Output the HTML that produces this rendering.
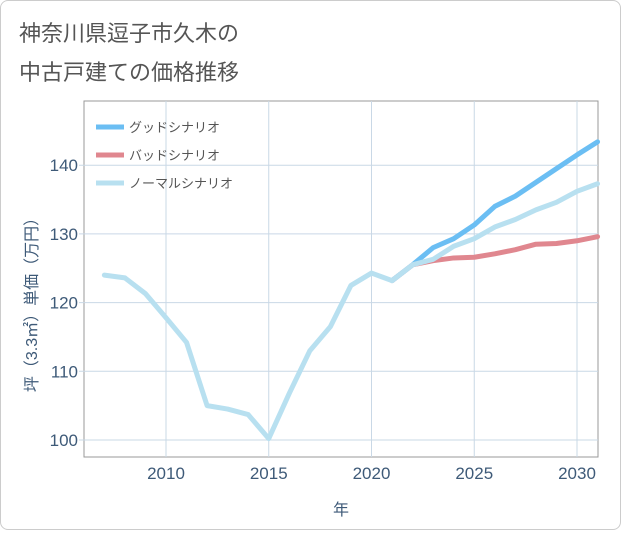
<!DOCTYPE html>
<html><head><meta charset="utf-8"><style>
body{margin:0;background:#fff;font-family:"Liberation Sans","Noto Sans CJK JP",sans-serif;}
#card{position:absolute;left:0;top:0;width:619px;height:528px;border:1px solid #ccc;border-radius:8px;background:#fff;}
</style></head><body>
<div id="card">
<svg id="chart" width="621" height="530"></svg>
</div>
<script>
const years=[2007,2008,2009,2010,2011,2012,2013,2014,2015,2016,2017,2018,2019,2020,2021,2022,2023,2024,2025,2026,2027,2028,2029,2030,2031];
const normalVals=[124,123.6,121.3,117.8,114.2,105,104.5,103.7,100.2,106.8,113,116.5,122.5,124.3,123.2,125.5,126.3,128.2,129.3,131,132.1,133.5,134.6,136.2,137.3];
const goodYears=[2021,2022,2023,2024,2025,2026,2027,2028,2029,2030,2031];
const goodVals=[123.2,125.5,128,129.3,131.3,134,135.5,137.5,139.5,141.5,143.4];
const badVals=[123.2,125.5,126.1,126.5,126.6,127.1,127.7,128.5,128.6,129,129.6];
const xTicks=[2010,2015,2020,2025,2030];
const yTicks=[100,110,120,130,140];
const L=83,R=597,T=100,B=456;
const x=v=>165+(v-2010)*20.55;
const y=v=>439-(v-100)*6.87;
const svg=document.getElementById('chart');
const NS='http://www.w3.org/2000/svg';
const TC='#3e5a78';
function mk(tag,at,parent){const e=document.createElementNS(NS,tag);for(const k in at)e.setAttribute(k,at[k]);(parent||svg).appendChild(e);return e;}
let t=mk('text',{x:18,y:40,'font-size':22,fill:'#555'});t.textContent='神奈川県逗子市久木の';

t=mk('text',{x:18,y:79,'font-size':22,fill:'#555'});t.textContent='中古戸建ての価格推移';

const bg=mk('rect',{x:L,y:T,width:R-L,height:B-T,fill:'#fff',stroke:'#999'});

for(const v of xTicks){const g=mk('line',{x1:x(v),x2:x(v),y1:T,y2:B,stroke:'#c9d8e6'});
const tx=mk('text',{x:x(v),y:478,'text-anchor':'middle','font-size':17,fill:TC});tx.textContent=v;}
for(const v of yTicks){const g=mk('line',{x1:L-5,x2:R,y1:y(v),y2:y(v),stroke:'#c9d8e6'});
const tx=mk('text',{x:77,y:y(v)+6,'text-anchor':'end','font-size':17,fill:TC});tx.textContent=v;}
t=mk('text',{x:340,y:514,'text-anchor':'middle','font-size':16,fill:TC});t.textContent='年';
t=mk('text',{x:0,y:0,'text-anchor':'middle','font-size':16,fill:TC,transform:'translate(36,300) rotate(-90)'});t.textContent='坪（3.3㎡）単価（万円）';
function line(xs,vs,color,name){const p=mk('polyline',{points:xs.map((v,i)=>x(v)+','+y(vs[i])).join(' '),fill:'none',stroke:color,'stroke-width':5,'stroke-linejoin':'round','stroke-linecap':'round'});}
line(goodYears,badVals,'#e0878f','bad-scenario-line');
line(goodYears,goodVals,'#6bbef3','good-scenario-line');
line(years,normalVals,'#b8e0f0','normal-scenario-line');
const leg=[['グッドシナリオ','#6bbef3','good'],['バッドシナリオ','#e0878f','bad'],['ノーマルシナリオ','#b8e0f0','normal']];
leg.forEach((d,i)=>{const yy=126+i*28;const l=mk('line',{x1:95,x2:123,y1:yy,y2:yy,stroke:d[1],'stroke-width':5});
const tx=mk('text',{x:128,y:yy+5,'font-size':13,fill:'#555'});tx.textContent=d[0];});
</script>
</body></html>
